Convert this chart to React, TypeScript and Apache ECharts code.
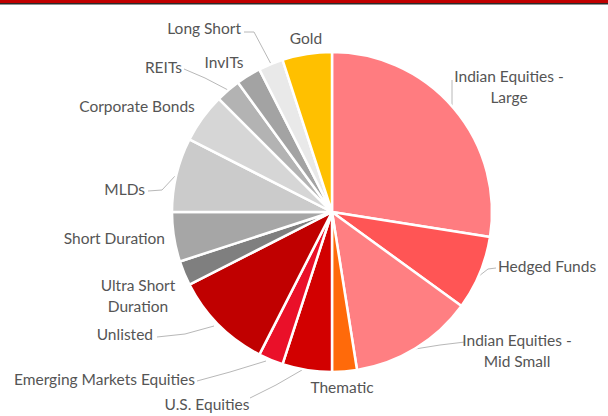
import React, { useEffect, useRef } from "react";
import * as echarts from "echarts";

const categories = [
  "Indian Equities - Large",
  "Hedged Funds",
  "Indian Equities - Mid Small",
  "Thematic",
  "U.S. Equities",
  "Emerging Markets Equities",
  "Unlisted",
  "Ultra Short Duration",
  "Short Duration",
  "MLDs",
  "Corporate Bonds",
  "REITs",
  "InvITs",
  "Long Short",
  "Gold",
];

const values = [27.5, 7.5, 12.5, 2.5, 5, 2.5, 10, 2.5, 5, 7.5, 5, 2.5, 2.5, 2.5, 5];

const colors = [
  "#FF7C80", "#FF5555", "#FF7F82", "#FF6A0A", "#D20000", "#EA1029", "#C00000",
  "#7F7F7F", "#A6A6A6", "#CBCBCB", "#D6D6D6", "#B3B3B3", "#A3A3A3", "#E9E9E9", "#FFC000",
];

// label layout: [x, y, align, guide line points or null]
const labelLayouts: [number, number, string, number[][] | null][] = [
  [509, 86, "center", [[452, 106], [452, 93], [452, 80]]],
  [498, 266, "left", [[479, 276], [488, 269], [496, 268]]],
  [517, 350, "center", [[415, 349], [440, 345], [465, 342]]],
  [342, 387, "center", null],
  [207, 404, "center", [[302, 370], [276, 385], [250, 398]]],
  [195, 379, "right", [[266, 361], [230, 372], [197, 381]]],
  [153, 334, "right", [[214, 326], [185, 334], [157, 337]]],
  [138, 295, "center", null],
  [165, 238, "right", null],
  [145, 189, "right", [[176, 175], [162, 190], [148, 191]]],
  [137, 106, "center", null],
  [182, 67, "right", [[228, 90], [205, 78], [184, 69]]],
  [224, 62, "center", null],
  [241, 28, "right", [[271, 64], [254, 32], [244, 32]]],
  [306, 38, "center", null],
];

export default function App() {
  const ref = useRef<HTMLDivElement>(null);
  useEffect(() => {
    document.body.style.margin = "0";
    const chart = echarts.init(ref.current!, null, { renderer: "svg" });
    chart.setOption({
      animation: false,
      backgroundColor: "#ffffff",
      graphic: [
        { type: "rect", left: 0, top: 0, shape: { width: 608, height: 3 }, style: { fill: "#C00000" } },
        { type: "rect", left: 0, top: 3, shape: { width: 608, height: 1.5 }, style: { fill: "#2a2a2a" } },
      ],
      series: [
        {
          type: "pie",
          center: [332, 212],
          radius: 160,
          startAngle: 90,
          clockwise: true,
          avoidLabelOverlap: false,
          itemStyle: { borderColor: "#ffffff", borderWidth: 2.5 },
          label: {
            show: true,
            position: "outside",
            color: "#555555",
            fontFamily: "Lato",
            fontSize: 15.5,
            lineHeight: 21,
            formatter: (p: any) =>
              p.name.replace("Equities - ", "Equities -\n").replace("Ultra Short ", "Ultra Short\n"),
          },
          labelLine: { show: true, lineStyle: { color: "#B8B8B8", width: 1 } },
          labelLayout: (params: any) => {
            const l = labelLayouts[params.dataIndex];
            const out: any = { x: l[0], y: l[1], align: l[2], verticalAlign: "middle" };
            if (l[3]) out.labelLinePoints = l[3];
            return out;
          },
          emphasis: { disabled: true },
          data: categories.map((name, i) => ({
            name,
            value: values[i],
            itemStyle: { color: colors[i] },
            labelLine: { show: labelLayouts[i][3] != null },
          })),
        },
      ],
    });
    return () => chart.dispose();
  }, []);
  return <div ref={ref} style={{ width: 608, height: 416 }} />;
}
